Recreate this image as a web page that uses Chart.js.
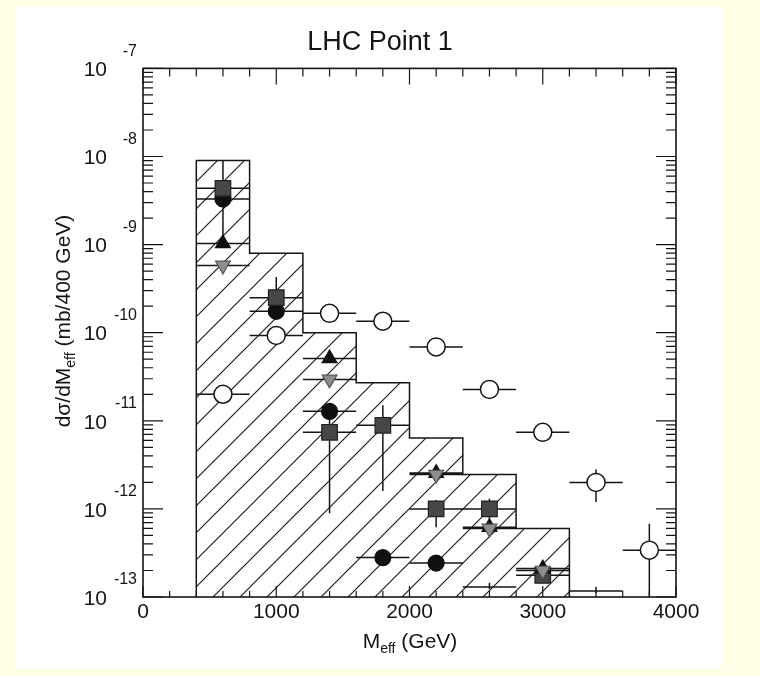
<!DOCTYPE html>
<html>
<head>
<meta charset="utf-8">
<script src="https://cdn.jsdelivr.net/npm/chart.js@4.4.1/dist/chart.umd.min.js"></script>
<style>
  html, body { margin: 0; padding: 0; background: #fffee6; }
  #wrap { width: 760px; height: 676px; }
</style>
</head>
<body>
<div id="wrap"><canvas id="meff-chart" width="760" height="676"></canvas></div>
<script>
// bin centres (GeV), each point spans +-200 GeV
const binCenters = [600, 1000, 1400, 1800, 2200, 2600, 3000, 3400, 3800];
const binHalfWidth = 200;

// hatched histogram (sum of backgrounds), left edges of 400 GeV bins
const histEdges = [400, 800, 1200, 1600, 2000, 2400, 2800, 3200];
const histValues = [9.0e-9, 8.0e-10, 1.0e-10, 2.7e-11, 6.4e-12, 2.45e-12, 6.0e-13];

// SUSY signal, open circles
const signal = [2.0e-11, 9.3e-11, 1.66e-10, 1.35e-10, 6.9e-11, 2.27e-11, 7.4e-12, 2.0e-12, 3.4e-13];
const signalLo = [null, null, null, null, null, null, null, 1.2e-12, 1.0e-13];
const signalHi = [null, null, null, null, null, null, null, 2.8e-12, 6.8e-13];

// t tbar, filled circles
const ttbar = [3.3e-9, 1.75e-10, 1.28e-11, 2.8e-13, 2.43e-13, null, null, null, null];

// QCD, squares
const qcd = [4.35e-9, 2.5e-10, 7.4e-12, 8.9e-12, 1.0e-12, 1.0e-12, 1.76e-13, null, null];
const qcdLo = [1.2e-9, 1.5e-10, 8.9e-13, 1.6e-12, 6.2e-13, 6.5e-13, null, null, null];
const qcdHi = [9.0e-9, 4.3e-10, 1.1e-11, 1.5e-11, 1.26e-12, 1.3e-12, null, null, null];

// W + jets, up triangles
const wjets = [1.03e-9, null, 5.1e-11, null, 2.55e-12, 6.2e-13, 2.1e-13, null, null];

// Z + jets, down triangles
const zjets = [5.8e-10, null, 2.95e-11, null, 2.45e-12, 6.0e-13, 2.0e-13, null, null];

// points sitting on the lower edge, only their bars show
const edgeX = [2600, 3400];
const edgeY = [1.3e-13, 1.17e-13];

const xTicks = [0, 1000, 2000, 3000, 4000];
const yDecades = [-13, -12, -11, -10, -9, -8, -7];

const Y_MIN = 1e-13;
const Y_MAX = 1e-7;
const FONT = "'Liberation Sans', Arial, Helvetica, sans-serif";
const INK = '#151515';

function hatchPattern() {
  const s = 27;
  const c = document.createElement('canvas');
  c.width = s;
  c.height = s;
  const g = c.getContext('2d');
  g.strokeStyle = '#1e1e1e';
  g.lineWidth = 1.2;
  g.beginPath();
  g.moveTo(0, s);
  g.lineTo(s, 0);
  g.moveTo(-2, 2);
  g.lineTo(2, -2);
  g.moveTo(s - 2, s + 2);
  g.lineTo(s + 2, s - 2);
  g.stroke();
  return g.createPattern(c, 'repeat');
}

function points(values) {
  return binCenters.map((x, i) => ({ x, y: values[i] }));
}

const histPoints = [{ x: histEdges[0], y: Y_MIN }]
  .concat(histValues.map((v, i) => ({ x: histEdges[i], y: v })))
  .concat([{ x: histEdges[histEdges.length - 1], y: Y_MIN }]);

const barSeries = [
  { values: signal, lo: signalLo, hi: signalHi },
  { values: ttbar },
  { values: qcd, lo: qcdLo, hi: qcdHi },
  { values: wjets },
  { values: zjets }
];

const errorBars = {
  id: 'errorBars',
  afterDatasetDraw(chart, args) {
    if (args.index !== 0) return;
    const { ctx, chartArea: a } = chart;
    const x = chart.scales.x;
    const y = chart.scales.y;
    ctx.save();
    ctx.beginPath();
    ctx.rect(a.left, a.top, a.right - a.left, a.bottom - a.top);
    ctx.clip();
    ctx.strokeStyle = INK;
    ctx.lineWidth = 1.5;
    ctx.beginPath();
    const bar = (cx, v, lo, hi) => {
      const py = y.getPixelForValue(v);
      ctx.moveTo(x.getPixelForValue(cx - binHalfWidth), py);
      ctx.lineTo(x.getPixelForValue(cx + binHalfWidth), py);
      if (lo != null && hi != null) {
        const px = x.getPixelForValue(cx);
        ctx.moveTo(px, y.getPixelForValue(lo));
        ctx.lineTo(px, y.getPixelForValue(hi));
      }
    };
    barSeries.forEach((s) => {
      s.values.forEach((v, i) => {
        if (v == null) return;
        bar(binCenters[i], v, s.lo && s.lo[i], s.hi && s.hi[i]);
      });
    });
    edgeX.forEach((cx, i) => {
      bar(cx, edgeY[i], edgeY[i] * 0.94, edgeY[i] * 1.12);
    });
    ctx.stroke();
    ctx.restore();
  }
};

const frame = {
  id: 'frame',
  beforeDraw(chart) {
    const ctx = chart.ctx;
    ctx.save();
    ctx.fillStyle = '#ffffff';
    ctx.fillRect(15, 7, 707, 662);
    ctx.restore();
  },
  afterDraw(chart) {
    const { ctx, chartArea: a } = chart;
    const x = chart.scales.x;
    const y = chart.scales.y;
    ctx.save();
    ctx.strokeStyle = INK;
    ctx.lineWidth = 1.6;
    ctx.strokeRect(a.left, a.top, a.right - a.left, a.bottom - a.top);

    ctx.lineWidth = 1.2;
    ctx.beginPath();
    // x ticks, bottom and top, pointing inwards
    for (let v = 0; v <= 4000; v += 200) {
      const px = x.getPixelForValue(v);
      const major = v % 1000 === 0;
      ctx.moveTo(px, a.bottom);
      ctx.lineTo(px, a.bottom - (major ? 11 : 6));
      ctx.moveTo(px, a.top);
      ctx.lineTo(px, a.top + (major ? 16 : 8));
    }
    // y ticks, left and right
    yDecades.forEach((d) => {
      for (let m = 1; m <= 9; m++) {
        const v = m * Math.pow(10, d);
        if (v > Y_MAX * 1.0001) break;
        const py = y.getPixelForValue(v);
        const len = m === 1 ? 20 : 10;
        ctx.moveTo(a.left, py);
        ctx.lineTo(a.left + len, py);
        ctx.moveTo(a.right, py);
        ctx.lineTo(a.right - len, py);
      }
    });
    ctx.stroke();

    // y tick labels 10^n
    ctx.fillStyle = INK;
    ctx.textBaseline = 'middle';
    ctx.textAlign = 'right';
    yDecades.forEach((d) => {
      const py = y.getPixelForValue(Math.pow(10, d));
      ctx.font = '21px ' + FONT;
      ctx.fillText('10', 107, py + 2);
      ctx.font = '16px ' + FONT;
      ctx.fillText('-' + Math.abs(d), 137, py - 17);
    });

    // axis titles with subscripts
    const drawParts = (parts, cx, cy) => {
      let total = 0;
      parts.forEach((p) => {
        ctx.font = p.size + 'px ' + FONT;
        p.w = ctx.measureText(p.t).width;
        total += p.w;
      });
      let px = cx - total / 2;
      ctx.textAlign = 'left';
      ctx.textBaseline = 'alphabetic';
      parts.forEach((p) => {
        ctx.font = p.size + 'px ' + FONT;
        ctx.fillText(p.t, px, cy + p.dy);
        px += p.w;
      });
    };
    drawParts([
      { t: 'M', size: 21, dy: 0 },
      { t: 'eff', size: 14, dy: 5 },
      { t: ' (GeV)', size: 21, dy: 0 }
    ], 410, 648);

    ctx.translate(70, 321);
    ctx.rotate(-Math.PI / 2);
    drawParts([
      { t: 'd\u03c3/dM', size: 21, dy: 0 },
      { t: 'eff', size: 14, dy: 5 },
      { t: ' (mb/400 GeV)', size: 21, dy: 0 }
    ], 0, 0);
    ctx.restore();
  }
};

const scatterBase = {
  type: 'scatter',
  showLine: false,
  borderWidth: 1.2,
  pointHoverRadius: 0
};

new Chart(document.getElementById('meff-chart'), {
  type: 'scatter',
  data: {
    datasets: [
      {
        type: 'line',
        label: 'Background sum',
        data: histPoints,
        stepped: true,
        fill: 'start',
        backgroundColor: hatchPattern(),
        borderColor: INK,
        borderWidth: 1.5,
        pointRadius: 0,
        order: 10
      },
      {
        ...scatterBase,
        label: 'SUSY signal',
        data: points(signal),
        pointStyle: 'circle',
        pointRadius: 9,
        backgroundColor: '#ffffff',
        borderColor: INK,
        borderWidth: 1.5,
        order: 6
      },
      {
        ...scatterBase,
        label: 't tbar',
        data: points(ttbar),
        pointStyle: 'circle',
        pointRadius: 8,
        backgroundColor: '#101010',
        borderColor: '#101010',
        order: 5
      },
      {
        ...scatterBase,
        label: 'QCD',
        data: points(qcd),
        pointStyle: 'rect',
        pointRadius: 11,
        backgroundColor: '#474747',
        borderColor: '#202020',
        order: 4
      },
      {
        ...scatterBase,
        label: 'W + jets',
        data: points(wjets),
        pointStyle: 'triangle',
        pointRadius: 8.5,
        backgroundColor: '#101010',
        borderColor: '#101010',
        order: 3
      },
      {
        ...scatterBase,
        label: 'Z + jets',
        data: points(zjets),
        pointStyle: 'triangle',
        rotation: 180,
        pointRadius: 8.5,
        backgroundColor: '#8e8e8e',
        borderColor: '#555555',
        order: 2
      }
    ]
  },
  options: {
    responsive: false,
    animation: false,
    layout: { padding: 0 },
    plugins: {
      legend: { display: false },
      tooltip: { enabled: false },
      title: {
        display: true,
        text: 'LHC Point 1',
        color: INK,
        font: { family: FONT, size: 27, weight: 'normal' },
        padding: { top: 26, bottom: 10 }
      }
    },
    scales: {
      x: {
        type: 'linear',
        min: 0,
        max: 4000,
        afterBuildTicks: (s) => { s.ticks = xTicks.map((v) => ({ value: v })); },
        afterFit: (s) => { s.height = 79; },
        ticks: {
          color: INK,
          font: { family: FONT, size: 21 },
          padding: 3,
          maxRotation: 0,
          autoSkip: false,
          callback: (v) => String(v)
        },
        grid: { display: false, drawTicks: false },
        border: { display: false }
      },
      y: {
        type: 'logarithmic',
        min: Y_MIN,
        max: Y_MAX,
        afterFit: (s) => { s.width = 143; },
        ticks: { display: false },
        grid: { display: false, drawTicks: false },
        border: { display: false }
      },
      yRight: {
        type: 'logarithmic',
        position: 'right',
        min: Y_MIN,
        max: Y_MAX,
        afterFit: (s) => { s.width = 84; },
        ticks: { display: false },
        grid: { display: false, drawTicks: false },
        border: { display: false }
      }
    }
  },
  plugins: [frame, errorBars]
});
</script>
</body>
</html>
